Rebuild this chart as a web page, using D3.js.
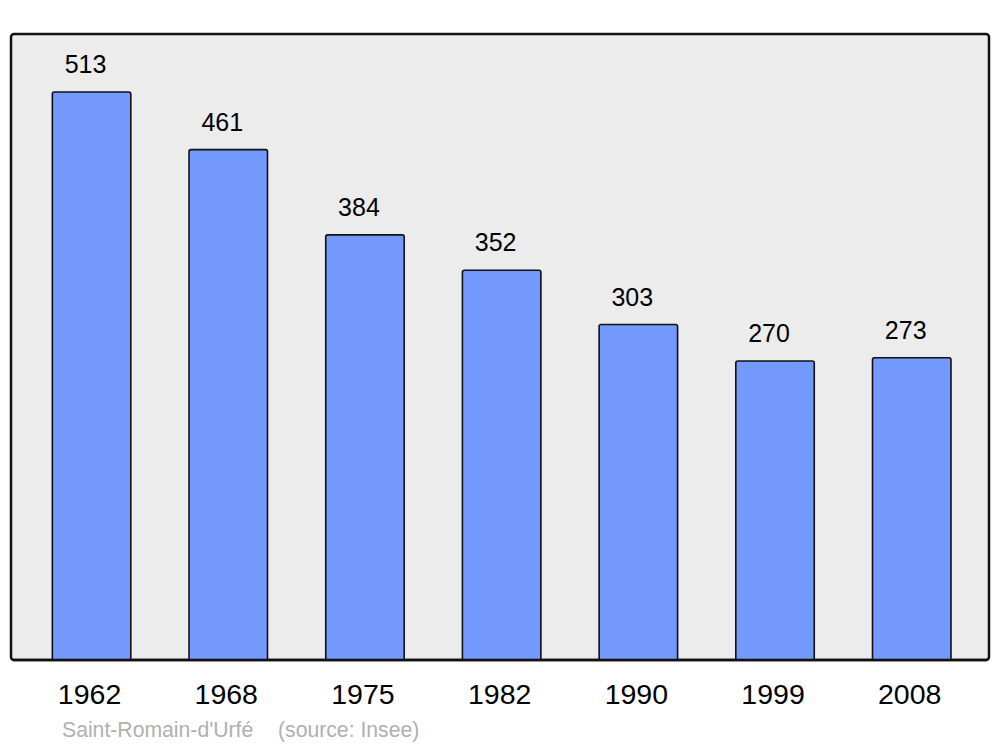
<!DOCTYPE html>
<html><head><meta charset="utf-8">
<script src="https://cdn.jsdelivr.net/npm/d3@7"></script>
<style>html,body{margin:0;padding:0;background:#fff;}svg{display:block;}</style>
</head><body>
<svg id="chart" width="1000" height="747"></svg>
<script>
const years = ["1962","1968","1975","1982","1990","1999","2008"];
const population = [513,461,384,352,303,270,273];
const captionName = "Saint-Romain-d'Urfé";
const captionSource = "(source: Insee)";

const svg = d3.select("#chart");
const panel = {x0: 11, x1: 989, y0: 34, y1: 660};

const x = d3.scaleBand().domain(years).range([12.7, 990.6]).paddingInner(0.426).paddingOuter(0.29);
const y = d3.scaleLinear().domain([0, 565.4]).range([panel.y1, panel.y0]);

svg.append("rect")
  .attr("x", panel.x0).attr("y", panel.y0)
  .attr("width", panel.x1 - panel.x0).attr("height", panel.y1 - panel.y0)
  .attr("rx", 3).attr("ry", 3)
  .attr("fill", "#ececec").attr("stroke", "#111").attr("stroke-width", 2.5);

const data = years.map((yr, i) => ({year: yr, value: population[i]}));

svg.selectAll("rect.bar").data(data).join("rect")
  .attr("class", "bar")
  .attr("x", d => x(d.year)).attr("y", d => y(d.value))
  .attr("width", x.bandwidth()).attr("height", d => y(0) - y(d.value))
  .attr("rx", 2).attr("ry", 2)
  .attr("fill", "#7399ff").attr("stroke", "#111").attr("stroke-width", 1.6);

svg.append("line")
  .attr("x1", panel.x0 + 2).attr("x2", panel.x1 - 2)
  .attr("y1", panel.y1).attr("y2", panel.y1)
  .attr("stroke", "#111").attr("stroke-width", 2.5);

svg.selectAll("text.val").data(data).join("text")
  .attr("class", "val")
  .attr("x", d => x(d.year) + x.bandwidth() / 2 - 6)
  .attr("y", d => y(d.value) - 19)
  .attr("text-anchor", "middle")
  .attr("font-family", "Liberation Sans, Arial, sans-serif")
  .attr("font-size", 25)
  .attr("fill", "#000")
  .text(d => d.value);

svg.selectAll("text.year").data(data).join("text")
  .attr("class", "year")
  .attr("x", d => x(d.year) + x.bandwidth() / 2 - 2)
  .attr("y", 704)
  .attr("text-anchor", "middle")
  .attr("font-family", "Liberation Sans, Arial, sans-serif")
  .attr("font-size", 28.5)
  .attr("fill", "#000")
  .text(d => d.year);

const cap = svg.append("text")
  .attr("y", 737)
  .attr("font-family", "Liberation Sans, Arial, sans-serif")
  .attr("font-size", 21.2)
  .attr("fill", "#b0b0b0");
cap.append("tspan").attr("x", 62).text(captionName);
cap.append("tspan").attr("x", 278).text(captionSource);
</script>
</body></html>
